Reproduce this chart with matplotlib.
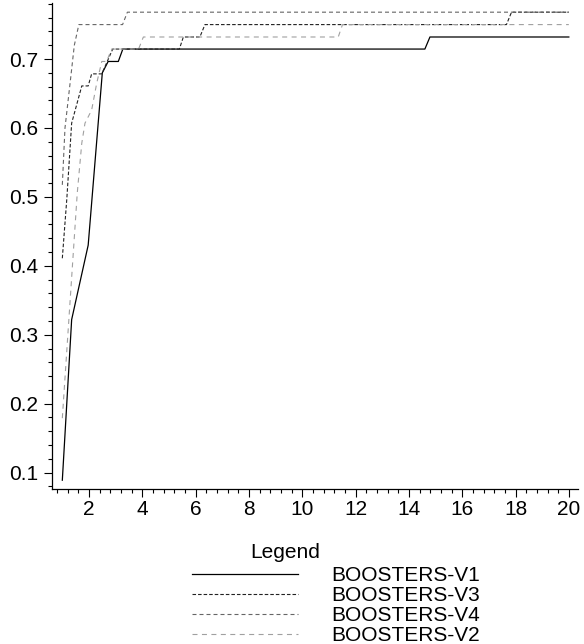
import matplotlib
matplotlib.use("Agg")
import matplotlib.pyplot as plt
from matplotlib.ticker import MultipleLocator

plt.rcParams['font.family'] = ['Liberation Sans', 'DejaVu Sans']

# series
v1_x = [1, 1.35, 1.97, 2.5, 2.72, 3.1, 3.27, 14.6, 14.79, 20]
v1_y = [0.089, 0.322, 0.430, 0.680, 0.6965, 0.6965, 0.7145, 0.7145, 0.732, 0.732]

v3_x = [1, 1.17, 1.35, 1.73, 1.97, 2.1, 2.48, 2.89, 5.39, 5.54, 6.16, 6.35, 17.66, 17.85, 20]
v3_y = [0.411, 0.498, 0.607, 0.661, 0.661, 0.6785, 0.6785, 0.7145, 0.7145, 0.732, 0.732,
        0.75, 0.75, 0.768, 0.768]

v4_x = [1, 1.1, 1.3, 1.45, 1.62, 3.26, 3.44, 20]
v4_y = [0.5175, 0.60, 0.668, 0.72, 0.75, 0.75, 0.768, 0.768]

v2_x = [1, 1.56, 1.73, 1.85, 2.1, 2.29, 2.48, 2.66, 2.85, 3.86, 4.04, 11.35, 11.51, 20]
v2_y = [0.179, 0.5055, 0.578, 0.607, 0.626, 0.665, 0.6965, 0.6965, 0.7145, 0.7145, 0.732,
        0.732, 0.75, 0.75]

labels = ['BOOSTERS-V1', 'BOOSTERS-V3', 'BOOSTERS-V4', 'BOOSTERS-V2']

fig = plt.figure(figsize=(5.84, 6.44), dpi=100)
ax = fig.add_axes([0.0896, 0.2402, 0.9004, 0.7548])

h1, = ax.plot(v1_x, v1_y, color='black', lw=0.9)
h3, = ax.plot(v3_x, v3_y, color='#222222', lw=0.8, dashes=(3.2, 1.8))
h4, = ax.plot(v4_x, v4_y, color='#666666', lw=0.8, dashes=(3.6, 2.7))
h2, = ax.plot(v2_x, v2_y, color='#a0a0a0', lw=0.8, dashes=(4.5, 4.0))

ax.set_xlim(0.625, 20.35)
ax.set_ylim(0.0758, 0.781)

for s in ['top', 'right']:
    ax.spines[s].set_visible(False)
ax.spines['left'].set_linewidth(0.9)
ax.spines['bottom'].set_linewidth(0.9)

ax.xaxis.set_minor_locator(MultipleLocator(0.4))
ax.yaxis.set_minor_locator(MultipleLocator(0.02))
ax.set_xticks(range(2, 21, 2))
ax.set_yticks([0.1, 0.2, 0.3, 0.4, 0.5, 0.6, 0.7])
ax.set_yticklabels(['0.1', '0.2', '0.3', '0.4', '0.5', '0.6', '0.7'])

ax.tick_params(which='major', length=5.5, width=0.8, labelsize=15, pad=2.5)
ax.tick_params(axis='y', which='major', length=6, pad=4)
ax.tick_params(which='minor', length=3, width=0.8)

fig.text(285 / 584, 1 - 552 / 644, 'Legend', fontsize=15, ha='center', va='center')
fig.legend([h1, h3, h4, h2], labels, loc='upper left',
           bbox_to_anchor=(192 / 584, 1 - 566 / 644), frameon=False,
           fontsize=15, handlelength=5.1, handletextpad=1.6,
           labelspacing=0.05, borderpad=0, borderaxespad=0)

fig.savefig('out.png', dpi=100)
